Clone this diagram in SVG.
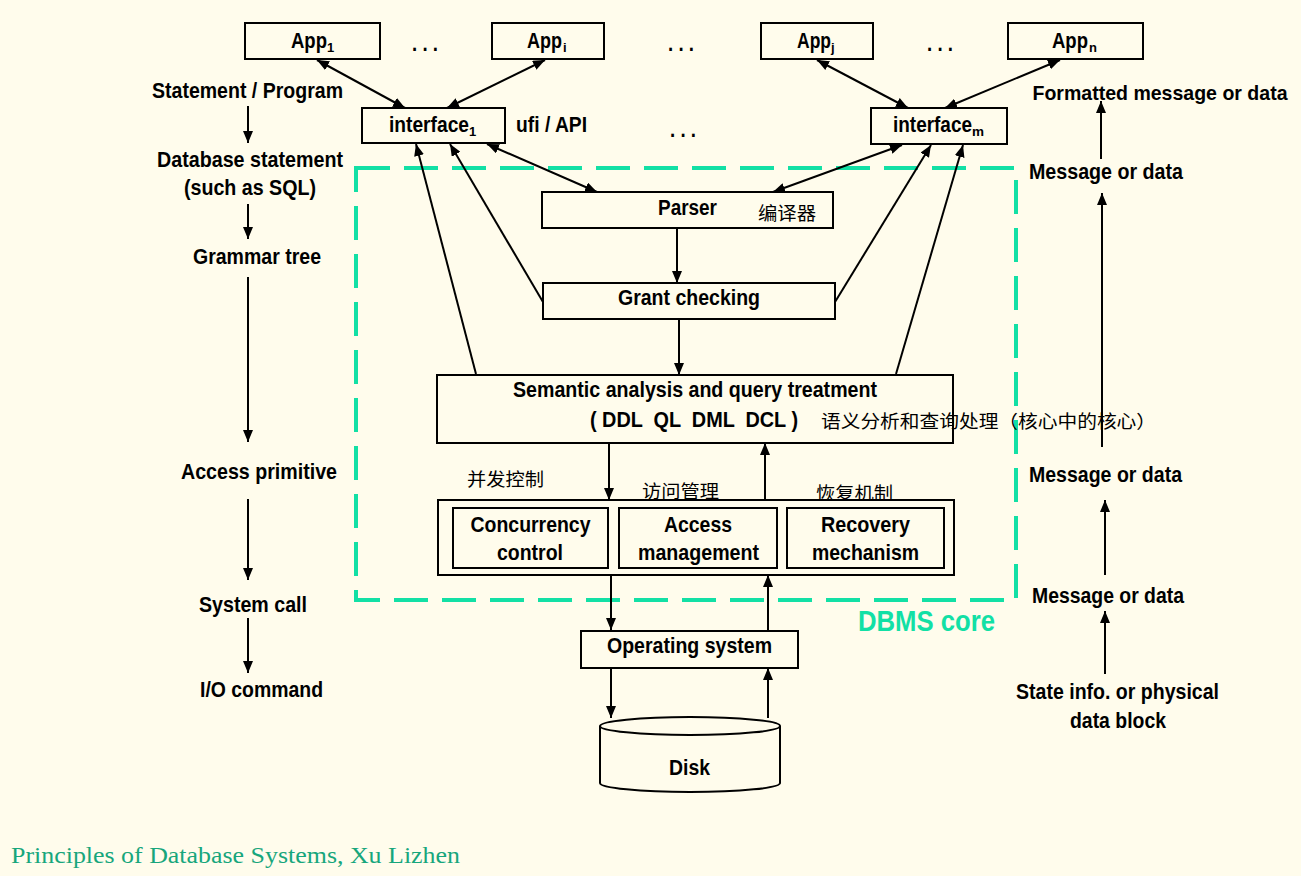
<svg xmlns="http://www.w3.org/2000/svg" width="1301" height="876" viewBox="0 0 1301 876">
<style>
.bg{fill:#FFFCEC}
.box{fill:#FFFCEC;stroke:#000;stroke-width:2}
.t{font-family:"Liberation Sans Narrow","Liberation Sans",Arial,sans-serif;font-weight:bold;font-size:22px;fill:#000}
.m{text-anchor:middle}
.sub{font-family:"Liberation Sans Narrow","Liberation Sans",Arial,sans-serif;font-weight:bold;font-size:13px;fill:#000}
.cn{font-family:"Noto Sans CJK SC","Noto Sans",sans-serif;font-size:18px;fill:#000}
.ln{stroke:#000;stroke-width:2;fill:none}
.dash{fill:none;stroke:#12E0A5;stroke-width:4;stroke-dasharray:34 14}
.core{font-family:"Liberation Sans Narrow","Liberation Sans",Arial,sans-serif;font-weight:bold;font-size:30px;fill:#12E0A5}
.foot{font-family:"Liberation Serif","DejaVu Serif",serif;font-size:24px;fill:#17A67C}
</style>
<defs>
<marker id="ah" viewBox="0 0 12 10" refX="12" refY="5" markerWidth="12" markerHeight="10" markerUnits="userSpaceOnUse" orient="auto-start-reverse">
<path d="M0,0 L12,5 L0,10 z" fill="#000"/>
</marker>
</defs>
<rect class="bg" x="0" y="0" width="1301" height="876"/>

<g id="dbms-core">
<rect class="dash" x="356" y="168" width="660" height="432"/>
<text class="core" x="858" y="631" textLength="137" lengthAdjust="spacingAndGlyphs">DBMS core</text>
</g>

<g id="app1"><rect class="box" x="245" y="23" width="135" height="36"/><text class="t" x="291" y="48" textLength="36" lengthAdjust="spacingAndGlyphs">App</text><text class="sub" x="327" y="52">1</text></g>
<g id="appi"><rect class="box" x="492" y="23" width="112" height="36"/><text class="t" x="527" y="48" textLength="35" lengthAdjust="spacingAndGlyphs">App</text><text class="sub" x="563" y="52">i</text></g>
<g id="appj"><rect class="box" x="761" y="23" width="112" height="36"/><text class="t" x="797" y="48" textLength="34" lengthAdjust="spacingAndGlyphs">App</text><text class="sub" x="831" y="52">j</text></g>
<g id="appn"><rect class="box" x="1008" y="23" width="135" height="36"/><text class="t" x="1052" y="48" textLength="36" lengthAdjust="spacingAndGlyphs">App</text><text class="sub" x="1089" y="52">n</text></g>
<g id="dots">
<text class="t m" x="425" y="51" textLength="26" lengthAdjust="spacingAndGlyphs">. . .</text>
<text class="t m" x="681" y="51" textLength="26" lengthAdjust="spacingAndGlyphs">. . .</text>
<text class="t m" x="940" y="51" textLength="26" lengthAdjust="spacingAndGlyphs">. . .</text>
<text class="t m" x="683" y="137" textLength="26" lengthAdjust="spacingAndGlyphs">. . .</text>
</g>

<g id="interface1"><rect class="box" x="362" y="108" width="143" height="35"/><text class="t" x="389" y="132" textLength="80" lengthAdjust="spacingAndGlyphs">interface</text><text class="sub" x="469" y="136">1</text></g>
<g id="ufi"><text class="t" x="516" y="132" textLength="71" lengthAdjust="spacingAndGlyphs">ufi / API</text></g>
<g id="interfacem"><rect class="box" x="871" y="108" width="136" height="36"/><text class="t" x="893" y="132" textLength="79" lengthAdjust="spacingAndGlyphs">interface</text><text class="sub" x="972" y="136" textLength="12" lengthAdjust="spacingAndGlyphs">m</text></g>

<g id="parser"><rect class="box" x="542" y="192" width="291" height="36"/><text class="t m" x="687.5" y="215" textLength="59" lengthAdjust="spacingAndGlyphs">Parser</text><text class="cn" x="758" y="220" textLength="58" lengthAdjust="spacingAndGlyphs">编译器</text></g>
<g id="grant"><rect class="box" x="543" y="283" width="292" height="36"/><text class="t m" x="689" y="305" textLength="142" lengthAdjust="spacingAndGlyphs">Grant checking</text></g>
<g id="semantic"><rect class="box" x="437" y="375" width="516" height="68"/>
<text class="t m" x="695" y="397" textLength="364" lengthAdjust="spacingAndGlyphs">Semantic analysis and query treatment</text>
<text class="t m" x="694" y="427" textLength="208" lengthAdjust="spacingAndGlyphs" xml:space="preserve">( DDL  QL  DML  DCL )</text>
</g>
<g id="semantic-cn"><text class="cn" x="821" y="428" textLength="335" lengthAdjust="spacingAndGlyphs">语义分析和查询处理（核心中的核心）</text></g>
<g id="labels-cn">
<text class="cn" x="467" y="486" textLength="77" lengthAdjust="spacingAndGlyphs">并发控制</text>
<text class="cn" x="642" y="498" textLength="77" lengthAdjust="spacingAndGlyphs">访问管理</text>
<text class="cn" x="816" y="500" textLength="77" lengthAdjust="spacingAndGlyphs">恢复机制</text>
</g>
<g id="managers"><rect class="box" x="438" y="500" width="516" height="75"/></g>
<g id="concurrency"><rect class="box" x="453" y="508" width="155" height="60"/>
<text class="t m" x="530.5" y="532" textLength="120" lengthAdjust="spacingAndGlyphs">Concurrency</text>
<text class="t m" x="530" y="560" textLength="66" lengthAdjust="spacingAndGlyphs">control</text></g>
<g id="access"><rect class="box" x="619" y="508" width="158" height="60"/>
<text class="t m" x="698" y="532" textLength="68" lengthAdjust="spacingAndGlyphs">Access</text>
<text class="t m" x="698.5" y="560" textLength="121" lengthAdjust="spacingAndGlyphs">management</text></g>
<g id="recovery"><rect class="box" x="787" y="508" width="157" height="60"/>
<text class="t m" x="865.5" y="532" textLength="89" lengthAdjust="spacingAndGlyphs">Recovery</text>
<text class="t m" x="865.5" y="560" textLength="107" lengthAdjust="spacingAndGlyphs">mechanism</text></g>
<g id="os"><rect class="box" x="581" y="631" width="217" height="37"/><text class="t m" x="689.5" y="653" textLength="165" lengthAdjust="spacingAndGlyphs">Operating system</text></g>
<g id="disk">
<path class="box" d="M600,726 L600,783 A90,9 0 0 0 780,783 L780,726"/>
<ellipse class="box" cx="690" cy="726" rx="90" ry="9"/>
<text class="t m" x="689.5" y="775" textLength="41" lengthAdjust="spacingAndGlyphs">Disk</text>
</g>

<g id="left-labels">
<text class="t m" x="247.5" y="98" textLength="191" lengthAdjust="spacingAndGlyphs">Statement / Program</text>
<text class="t m" x="250" y="167" textLength="186" lengthAdjust="spacingAndGlyphs">Database statement</text>
<text class="t m" x="250" y="195" textLength="132" lengthAdjust="spacingAndGlyphs">(such as SQL)</text>
<text class="t m" x="257" y="264" textLength="128" lengthAdjust="spacingAndGlyphs">Grammar tree</text>
<text class="t m" x="259" y="479" textLength="156" lengthAdjust="spacingAndGlyphs">Access primitive</text>
<text class="t m" x="253" y="612" textLength="108" lengthAdjust="spacingAndGlyphs">System call</text>
<text class="t m" x="261.5" y="697" textLength="123" lengthAdjust="spacingAndGlyphs">I/O command</text>
</g>
<g id="right-labels">
<text class="t m" x="1160" y="100" textLength="255" lengthAdjust="spacingAndGlyphs" style="font-size:21px">Formatted message or data</text>
<text class="t m" x="1106" y="179" textLength="154" lengthAdjust="spacingAndGlyphs">Message or data</text>
<text class="t m" x="1105.5" y="482" textLength="153" lengthAdjust="spacingAndGlyphs">Message or data</text>
<text class="t m" x="1108" y="603" textLength="152" lengthAdjust="spacingAndGlyphs">Message or data</text>
<text class="t m" x="1117.5" y="699" textLength="203" lengthAdjust="spacingAndGlyphs">State info. or physical</text>
<text class="t m" x="1118" y="728" textLength="96" lengthAdjust="spacingAndGlyphs">data block</text>
</g>

<g id="connectors">
<line class="ln" x1="317" y1="60" x2="405" y2="108" marker-start="url(#ah)" marker-end="url(#ah)"/>
<line class="ln" x1="545" y1="60" x2="447" y2="108" marker-start="url(#ah)" marker-end="url(#ah)"/>
<line class="ln" x1="817" y1="60" x2="908" y2="108" marker-start="url(#ah)" marker-end="url(#ah)"/>
<line class="ln" x1="1060" y1="60" x2="945" y2="108" marker-start="url(#ah)" marker-end="url(#ah)"/>
<line class="ln" x1="487" y1="144" x2="597" y2="192" marker-start="url(#ah)" marker-end="url(#ah)"/>
<line class="ln" x1="902" y1="145" x2="773" y2="192" marker-start="url(#ah)" marker-end="url(#ah)"/>
<line class="ln" x1="476" y1="374" x2="416" y2="144" marker-end="url(#ah)"/>
<line class="ln" x1="543" y1="302" x2="450" y2="144" marker-end="url(#ah)"/>
<line class="ln" x1="835" y1="302" x2="931" y2="145" marker-end="url(#ah)"/>
<line class="ln" x1="896" y1="374" x2="963" y2="145" marker-end="url(#ah)"/>
<line class="ln" x1="677" y1="228" x2="677" y2="283" marker-end="url(#ah)"/>
<line class="ln" x1="679" y1="319" x2="679" y2="375" marker-end="url(#ah)"/>
<line class="ln" x1="609" y1="443" x2="609" y2="500" marker-end="url(#ah)"/>
<line class="ln" x1="765" y1="500" x2="765" y2="443" marker-end="url(#ah)"/>
<line class="ln" x1="611" y1="575" x2="611" y2="630" marker-end="url(#ah)"/>
<line class="ln" x1="768" y1="631" x2="768" y2="575" marker-end="url(#ah)"/>
<line class="ln" x1="611" y1="668" x2="611" y2="718" marker-end="url(#ah)"/>
<line class="ln" x1="768" y1="718" x2="768" y2="668" marker-end="url(#ah)"/>
<line class="ln" x1="248" y1="106" x2="248" y2="143" marker-end="url(#ah)"/>
<line class="ln" x1="248" y1="204" x2="248" y2="239" marker-end="url(#ah)"/>
<line class="ln" x1="248" y1="277" x2="248" y2="442" marker-end="url(#ah)"/>
<line class="ln" x1="248" y1="499" x2="248" y2="580" marker-end="url(#ah)"/>
<line class="ln" x1="248" y1="618" x2="248" y2="673" marker-end="url(#ah)"/>
<line class="ln" x1="1101" y1="159" x2="1101" y2="101" marker-end="url(#ah)"/>
<line class="ln" x1="1102" y1="447" x2="1102" y2="193" marker-end="url(#ah)"/>
<line class="ln" x1="1105" y1="575" x2="1105" y2="500" marker-end="url(#ah)"/>
<line class="ln" x1="1105" y1="674" x2="1105" y2="611" marker-end="url(#ah)"/>
</g>

<g id="footer"><text class="foot" x="11" y="863" textLength="449" lengthAdjust="spacingAndGlyphs">Principles of Database Systems, Xu Lizhen</text></g>
</svg>
